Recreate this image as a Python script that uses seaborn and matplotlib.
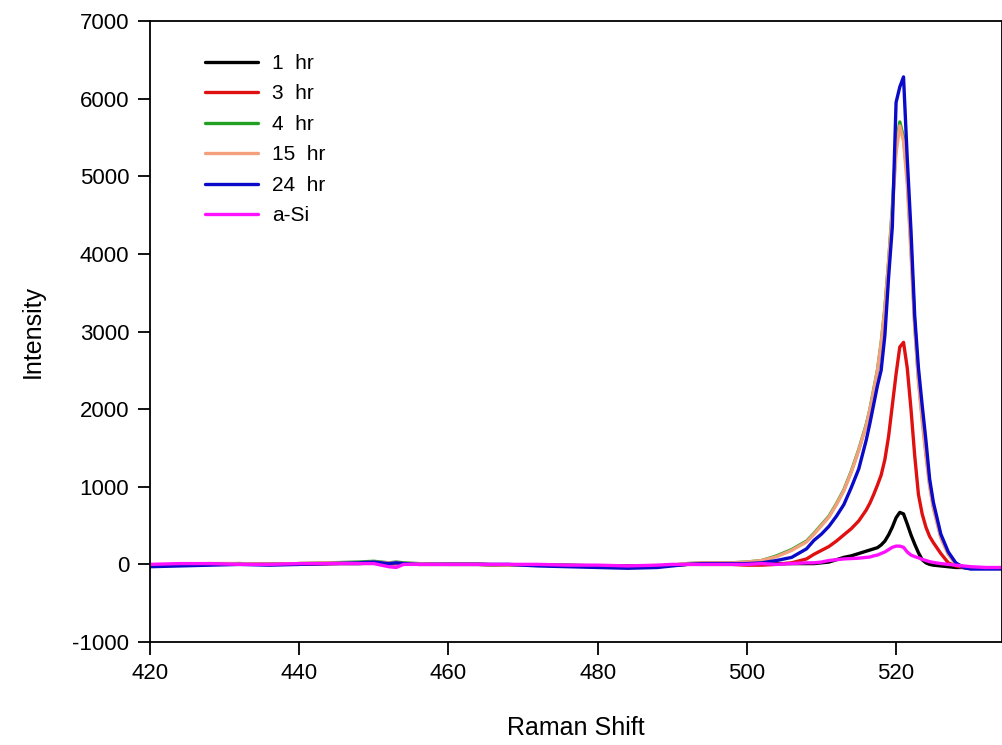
import numpy as np
import pandas as pd
import matplotlib
matplotlib.use("Agg")
import matplotlib.pyplot as plt
import seaborn as sns

# Raman shift grid (cm-1) and intensities
shift = [420, 424, 428, 432, 436, 440, 444, 448, 450, 452, 453, 454, 456, 460,
         464, 468, 472, 476, 480, 484, 488, 490, 492, 494, 496, 498, 500, 502,
         504, 506, 508, 509, 510, 511, 512, 513, 514, 515, 516, 516.5, 517,
         517.5, 518, 518.5, 519, 519.5, 520, 520.5, 521, 521.5, 522, 522.5,
         523, 523.5, 524, 524.5, 525, 526, 527, 528, 529, 530, 532, 534.5]

hr1 = [-10, -10, 0, 0, 0, 0, 10, 10, 20, 10, 10, 10, 0, 0,
       0, -10, -10, -10, -20, -20, -20, -10, 0, 0, 0, 0, 0, 10,
       10, 10, 10, 10, 20, 30, 60, 90, 110, 140, 170, 185, 200,
       215, 250, 300, 380, 480, 600, 670, 650, 520, 380, 260,
       150, 60, 20, 0, -10, -20, -30, -40, -40, -50, -50, -50]

hr3 = [-10, 0, 10, 10, 0, 10, 10, 20, 20, 10, 10, 10, 0, 0,
       0, -10, -10, -20, -20, -30, -20, -10, 0, 0, 0, 0, -10, -10,
       0, 20, 70, 130, 180, 230, 300, 380, 460, 560, 700, 790, 900,
       1020, 1150, 1350, 1650, 2050, 2450, 2800, 2860, 2530, 2000, 1400,
       900, 650, 480, 360, 280, 140, 20, -20, -40, -50, -50, -50]

hr4 = [-20, -10, 0, 10, 0, 10, 20, 30, 40, 20, 30, 20, 10, 0,
       0, -10, -10, -20, -30, -40, -30, -10, 10, 20, 20, 20, 30, 50,
       110, 190, 300, 400, 510, 620, 780, 960, 1200, 1480, 1800, 2000, 2250,
       2500, 2850, 3300, 3900, 4600, 5400, 5700, 5500, 5000, 4100, 3100,
       2400, 1900, 1450, 1050, 750, 360, 140, 10, -30, -50, -50, -50]

hr15 = [-10, -10, 0, 10, 0, 10, 20, 20, 30, 20, 20, 10, 10, 0,
        0, -10, -10, -20, -30, -30, -30, -10, 10, 20, 20, 20, 30, 50,
        100, 180, 290, 390, 500, 610, 770, 950, 1190, 1470, 1790, 2000, 2240,
        2500, 2850, 3300, 3900, 4550, 5300, 5650, 5450, 4900, 4000, 3050,
        2350, 1850, 1400, 1000, 720, 340, 130, 0, -30, -50, -50, -50]

hr24 = [-30, -20, -10, 0, -10, 0, 10, 20, 30, 10, 20, 10, 0, 0,
        0, 0, -20, -30, -40, -50, -40, -20, 0, 10, 10, 10, 10, 20,
        50, 90, 200, 310, 390, 490, 620, 770, 990, 1230, 1600, 1820, 2060,
        2300, 2500, 2950, 3700, 4350, 5950, 6150, 6280, 5230, 4300, 3200,
        2530, 2050, 1600, 1100, 800, 390, 160, 20, -40, -60, -60, -60]

asi = [0, 10, 10, 0, 0, 10, 10, 10, 10, -30, -40, 0, 0, 0,
       0, 0, 0, -10, -10, -20, -10, 0, 0, 0, 0, 0, 0, 10,
       0, 10, 20, 20, 30, 50, 60, 70, 75, 80, 90, 95, 110,
       120, 140, 160, 190, 220, 235, 235, 220, 160, 120, 100,
       85, 65, 50, 35, 25, 10, 0, -10, -20, -30, -40, -40]

labels = ["1  hr", "3  hr", "4  hr", "15  hr", "24  hr", "a-Si"]
series = [hr1, hr3, hr4, hr15, hr24, asi]
colors = ["#000000", "#e01010", "#22a022", "#f4a07c", "#0a0ac8", "#ff10ff"]

yticks = [-1000, 0, 1000, 2000, 3000, 4000, 5000, 6000, 7000]
ytick_labels = ["-1000", "0", "1000", "2000", "3000", "4000", "5000", "6000", "7000"]
xticks = [420, 440, 460, 480, 500, 520]

df = pd.concat([pd.DataFrame({"Raman Shift": shift, "Intensity": s, "sample": lab})
                for s, lab in zip(series, labels)], ignore_index=True)

sns.set_style("ticks")
plt.rcParams["font.family"] = ["Liberation Sans", "DejaVu Sans"]
plt.rcParams["axes.unicode_minus"] = False
plt.rcParams["text.color"] = "black"
plt.rcParams["axes.labelcolor"] = "black"

fig = plt.figure(figsize=(10.02, 7.45), dpi=100)
ax = fig.add_axes([150 / 1002, 1 - 642 / 745, 1 - 150 / 1002, (642 - 21) / 745])

sns.lineplot(data=df, x="Raman Shift", y="Intensity", hue="sample",
             hue_order=labels, palette=dict(zip(labels, colors)),
             sort=False, estimator=None, linewidth=2.4, ax=ax)

ax.set_xlim(420, 534.2)
ax.set_ylim(-1000, 7000)
ax.set_xticks(xticks)
ax.set_yticks(yticks)
ax.set_yticklabels(ytick_labels)
ax.tick_params(axis="both", direction="out", length=9, width=1.3,
               labelsize=16, colors="black", pad=6)
for sp in ax.spines.values():
    sp.set_linewidth(1.3)
    sp.set_color("black")

ax.set_xlabel("Raman Shift", fontsize=18, labelpad=23)
ax.set_ylabel("Intensity", fontsize=18, labelpad=20)

handles, labs = ax.get_legend_handles_labels()
ax.legend(handles, labs, loc="upper left", bbox_to_anchor=(205 / 1002, 1 - 54 / 745),
          bbox_transform=fig.transFigure, frameon=False, fontsize=15,
          handlelength=2.55, handletextpad=0.67, labelspacing=0.55,
          borderpad=0, borderaxespad=0)

fig.savefig("out.png", dpi=100)
